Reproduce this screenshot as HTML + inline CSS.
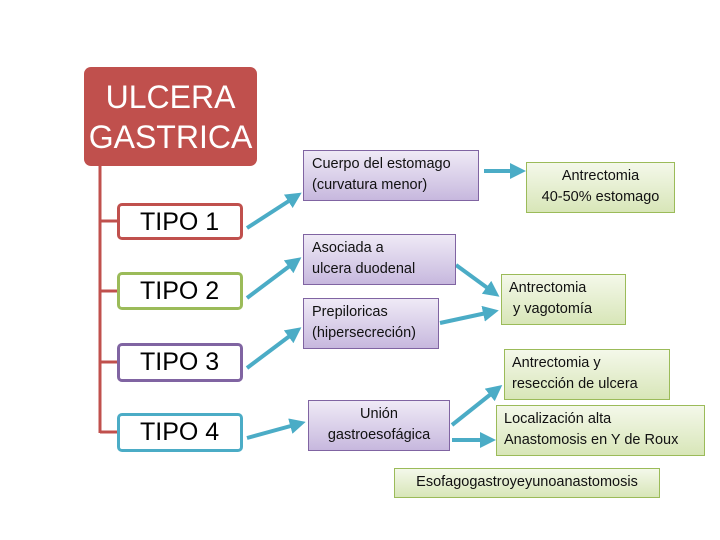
<!DOCTYPE html>
<html><head><meta charset="utf-8"><style>
body{margin:0;width:720px;height:540px;background:#fff;position:relative;overflow:hidden;font-family:"Liberation Sans",sans-serif}
.b{position:absolute;box-sizing:border-box}
.t{background:#fff;border:3px solid;border-radius:5px;font-size:25px;padding-left:20px;line-height:32px}
.p{background:linear-gradient(#efeaf6,#c7b8de);border:1px solid #8064a2;font-size:14.5px;line-height:21px;padding:3px 8px;color:#111}
.g{background:linear-gradient(#f4f8ea,#d8e6b8);border:1px solid #9bbb59;font-size:14.5px;line-height:21px;padding:3px 7px;color:#111}
</style></head><body>
<div class="b" style="left:84px;top:67px;width:173px;height:99px;background:#c0504d;border-radius:7px;color:#fff;font-size:32px;text-align:center;line-height:40px;padding-top:10px">ULCERA<br>GASTRICA</div>
<svg width="720" height="540" style="position:absolute;left:0;top:0">
<defs><marker id="a" markerWidth="4" markerHeight="4" refX="2" refY="2" orient="auto"><path d="M0,0L4,2L0,4z" fill="#4bacc6"/></marker></defs>
<g stroke="#c0504d" stroke-width="3" fill="none"><path d="M100,166V433M100,221H117M100,291H117M100,362H117M100,432H117"/></g>
<g stroke="#4bacc6" stroke-width="4" marker-end="url(#a)">
<line x1="247" y1="228" x2="295" y2="197"/>
<line x1="247" y1="298" x2="295" y2="262"/>
<line x1="247" y1="368" x2="295" y2="332"/>
<line x1="247" y1="438" x2="298" y2="424"/>
<line x1="484" y1="171" x2="518" y2="171"/>
<line x1="456" y1="265" x2="493" y2="292"/>
<line x1="440" y1="323" x2="491" y2="312"/>
<line x1="452" y1="425" x2="496" y2="390"/>
<line x1="452" y1="440" x2="488" y2="440"/>
</g></svg>
<div class="b t" style="left:117px;top:203px;width:126px;height:37px;border-color:#c0504d">TIPO 1</div>
<div class="b t" style="left:117px;top:272px;width:126px;height:38px;border-color:#9bbb59">TIPO 2</div>
<div class="b t" style="left:117px;top:343px;width:126px;height:39px;border-color:#8064a2">TIPO 3</div>
<div class="b t" style="left:117px;top:413px;width:126px;height:39px;border-color:#4bacc6">TIPO 4</div>
<div class="b p" style="left:303px;top:150px;width:176px;height:51px">Cuerpo del estomago<br>(curvatura menor)</div>
<div class="b p" style="left:303px;top:234px;width:153px;height:51px">Asociada a<br>ulcera duodenal</div>
<div class="b p" style="left:303px;top:298px;width:136px;height:51px">Prepiloricas<br>(hipersecreción)</div>
<div class="b p" style="left:308px;top:400px;width:142px;height:51px;text-align:center">Unión<br>gastroesofágica</div>
<div class="b g" style="left:526px;top:162px;width:149px;height:51px;text-align:center">Antrectomia<br>40-50% estomago</div>
<div class="b g" style="left:501px;top:274px;width:125px;height:51px">Antrectomia<br>&nbsp;y vagotomía</div>
<div class="b g" style="left:504px;top:349px;width:166px;height:51px">Antrectomia y<br>resección de ulcera</div>
<div class="b g" style="left:496px;top:405px;width:209px;height:51px">Localización alta<br>Anastomosis en Y de Roux</div>
<div class="b g" style="left:394px;top:468px;width:266px;height:30px;text-align:center">Esofagogastroyeyunoanastomosis</div>
</body></html>
